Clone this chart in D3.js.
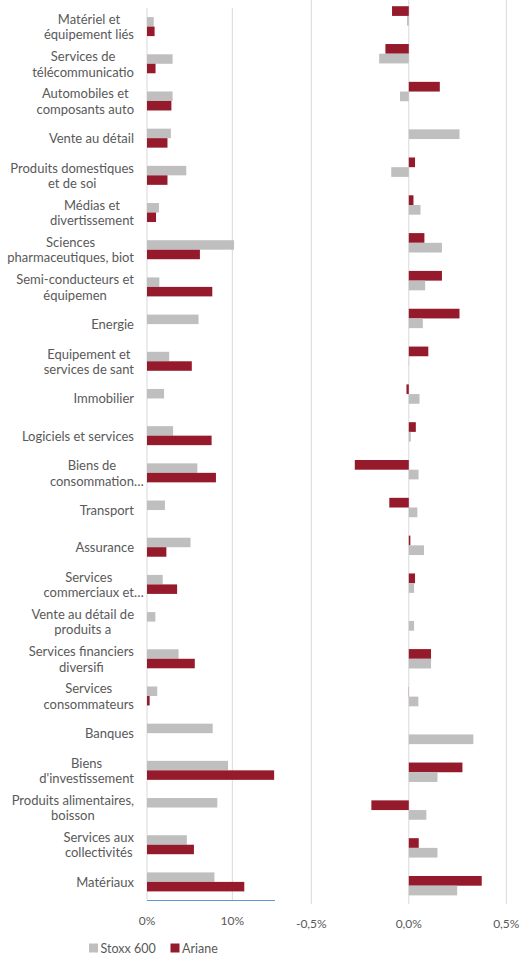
<!DOCTYPE html>
<html>
<head>
<meta charset="utf-8">
<script src="https://cdn.jsdelivr.net/npm/d3@7"></script>
<style>
  html, body { margin: 0; padding: 0; background: #fff; }
  svg { display: block; font-family: Lato, "Open Sans", sans-serif; }
</style>
</head>
<body>
<svg id="chart" width="520" height="958"></svg>
<script>
// ---------- DATA ----------
const categories = [
  "Matériel et\néquipement liés",
  "Services de\ntélécommunicatio",
  "Automobiles et\ncomposants auto",
  "Vente au détail",
  "Produits domestiques\net de soi",
  "Médias et\ndivertissement",
  "Sciences\npharmaceutiques, biot",
  "Semi-conducteurs et\néquipemen",
  "Energie",
  "Equipement et\nservices de sant",
  "Immobilier",
  "Logiciels et services",
  "Biens de\nconsommation…",
  "Transport",
  "Assurance",
  "Services\ncommerciaux et…",
  "Vente au détail de\nproduits a",
  "Services financiers\ndiversifi",
  "Services\nconsommateurs",
  "Banques",
  "Biens\nd'investissement",
  "Produits alimentaires,\nboisson",
  "Services aux\ncollectivités",
  "Matériaux"
];
// Left panel: weights (%)
const stoxxWeight  = [0.79, 3.0, 3.0, 2.8, 4.6, 1.4, 10.2, 1.45, 6.04, 2.6, 2.0, 3.06, 5.9, 2.1, 5.1, 1.84, 0.98, 3.7, 1.2, 7.7, 9.5, 8.24, 4.67, 7.9];
const arianeWeight = [0.89, 1.0, 2.86, 2.4, 2.4, 1.06, 6.2, 7.65, 0, 5.25, 0, 7.57, 8.08, 0, 2.27, 3.53, 0, 5.6, 0.31, 0, 14.9, 0, 5.5, 11.4];
// Right panel: contributions (%)
const arianeContrib = [-0.086, -0.12, 0.159, 0, 0.032, 0.024, 0.08, 0.17, 0.26, 0.10, -0.012, 0.036, -0.277, -0.10, 0.008, 0.032, 0, 0.114, 0.001, 0, 0.275, -0.192, 0.051, 0.374];
const stoxxContrib  = [-0.009, -0.152, -0.045, 0.26, -0.09, 0.06, 0.17, 0.084, 0.072, 0.002, 0.055, 0.01, 0.05, 0.044, 0.078, 0.027, 0.027, 0.114, 0.049, 0.331, 0.147, 0.09, 0.147, 0.248];
const leftTicks  = [0, 10];
const leftTickLabels = ["0%", "10%"];
const rightTicks = [-0.5, 0, 0.5];
const rightTickLabels = ["-0,5%", "0,0%", "0,5%"];
const seriesNames = ["Stoxx 600", "Ariane"];

// ---------- STYLE ----------
const GRAY = "#BFBFBF", RED = "#951B2C", GRID = "#D9D9D9", TEXT = "#595959", AXIS = "#5B9BD5";

const svg = d3.select("#chart");

// ---------- LEFT PANEL ----------
const xL = d3.scaleLinear().domain([0, 15]).range([147, 275]);
const yL = d3.scaleBand().domain(d3.range(categories.length)).range([8, 900.5]).padding(0);
const barHL = 9.5;

const gL = svg.append("g");
gL.selectAll("line.grid").data(leftTicks).join("line")
  .attr("x1", d => xL(d)).attr("x2", d => xL(d))
  .attr("y1", 8).attr("y2", 900.5)
  .attr("stroke", GRID).attr("stroke-width", 1);

gL.selectAll("rect.s").data(stoxxWeight).join("rect")
  .attr("x", xL(0)).attr("width", d => xL(d) - xL(0))
  .attr("y", (d, i) => yL(i) + yL.bandwidth() / 2 - barHL)
  .attr("height", barHL).attr("fill", GRAY);
gL.selectAll("rect.a").data(arianeWeight).join("rect")
  .attr("x", xL(0)).attr("width", d => xL(d) - xL(0))
  .attr("y", (d, i) => yL(i) + yL.bandwidth() / 2)
  .attr("height", barHL).attr("fill", RED);

// bottom axis line
gL.append("line").attr("x1", xL(0)).attr("x2", xL(15))
  .attr("y1", 900.5).attr("y2", 900.5).attr("stroke", AXIS).attr("stroke-width", 1);

gL.selectAll("text.tick").data(leftTicks).join("text")
  .attr("x", d => xL(d)).attr("y", 920)
  .attr("text-anchor", "middle").attr("dominant-baseline", "central")
  .attr("font-size", 12).attr("fill", TEXT)
  .text((d, i) => leftTickLabels[i]);

// category labels
const labelRight = 134, lineH = 15.5, labelFont = 13;
categories.forEach((c, i) => {
  const lines = c.split("\n");
  const cy = yL(i) + yL.bandwidth() / 2;
  const g = svg.append("g");
  const texts = lines.map((ln, k) => g.append("text")
    .attr("y", cy + (k - (lines.length - 1) / 2) * lineH)
    .attr("dominant-baseline", "central")
    .attr("font-size", labelFont).attr("fill", TEXT).text(ln));
  // widths without trailing ellipsis
  const coreW = lines.map((ln, k) => {
    if (ln.endsWith("…")) {
      const t = g.append("text").attr("font-size", labelFont).text(ln.slice(0, -1));
      const w = t.node().getComputedTextLength(); t.remove(); return w;
    }
    return texts[k].node().getComputedTextLength();
  });
  const blockW = d3.max(coreW);
  const center = labelRight - blockW / 2;
  texts.forEach((t, k) => t.attr("x", center - coreW[k] / 2).attr("text-anchor", "start"));
});

// ---------- RIGHT PANEL ----------
const xR = d3.scaleLinear().domain([-0.5, 0.5]).range([311.3, 506.3]);
const yR = d3.scaleBand().domain(d3.range(categories.length)).range([-3, 904.6]).padding(0);
const barHR = 9.7;

const gR = svg.append("g");
gR.selectAll("line.grid").data(rightTicks).join("line")
  .attr("x1", d => xR(d)).attr("x2", d => xR(d))
  .attr("y1", 0).attr("y2", 904)
  .attr("stroke", GRID).attr("stroke-width", 1);

gR.selectAll("rect.a").data(arianeContrib).join("rect")
  .attr("x", d => Math.min(xR(0), xR(d))).attr("width", d => Math.abs(xR(d) - xR(0)))
  .attr("y", (d, i) => yR(i) + yR.bandwidth() / 2 - barHR)
  .attr("height", barHR).attr("fill", RED);
gR.selectAll("rect.s").data(stoxxContrib).join("rect")
  .attr("x", d => Math.min(xR(0), xR(d))).attr("width", d => Math.abs(xR(d) - xR(0)))
  .attr("y", (d, i) => yR(i) + yR.bandwidth() / 2)
  .attr("height", barHR).attr("fill", GRAY);

gR.selectAll("text.tick").data(rightTicks).join("text")
  .attr("x", d => xR(d)).attr("y", 923)
  .attr("text-anchor", "middle").attr("dominant-baseline", "central")
  .attr("font-size", 12).attr("fill", TEXT)
  .text((d, i) => rightTickLabels[i]);

// ---------- LEGEND ----------
const legend = svg.append("g");
const legendItems = [
  {name: seriesNames[0], color: GRAY, x: 89},
  {name: seriesNames[1], color: RED, x: 170.5}
];
legendItems.forEach(it => {
  legend.append("rect").attr("x", it.x).attr("y", 943.5).attr("width", 9).attr("height", 9).attr("fill", it.color);
  legend.append("text").attr("x", it.x + 11.5).attr("y", 948)
    .attr("dominant-baseline", "central").attr("font-size", 12.5).attr("fill", TEXT).text(it.name);
});
</script>
</body>
</html>
